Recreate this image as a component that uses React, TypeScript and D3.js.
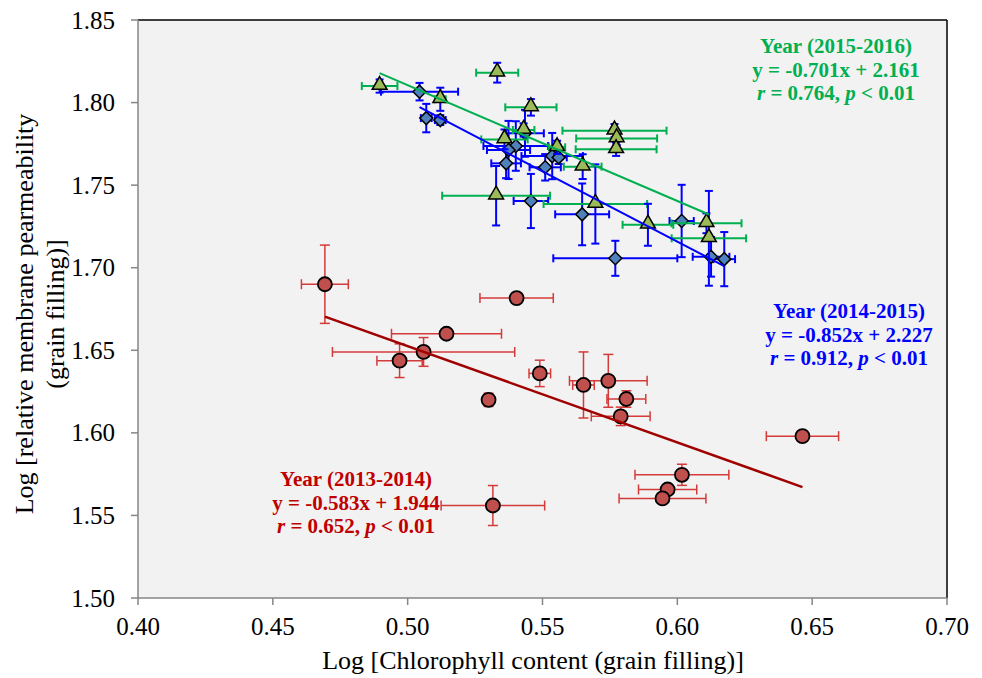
import * as d3 from "d3";

type Pt = { x: number; y: number; ex: number; ey: number };

// Year (2013-2014) – circles
const redX = [0.4693, 0.5404, 0.5144, 0.5059, 0.497, 0.549, 0.53, 0.5652, 0.5744, 0.5811, 0.579, 0.5316, 0.6464, 0.6017, 0.5964, 0.5945];
const redY = [1.69, 1.6816, 1.66, 1.649, 1.6437, 1.636, 1.62, 1.629, 1.6315, 1.6205, 1.61, 1.556, 1.598, 1.5746, 1.5657, 1.5603];
const redEx = [0.0087, 0.0136, 0.0204, 0.0338, 0.0084, 0.004, 0.0015, 0.004, 0.0144, 0.0072, 0.0109, 0.0192, 0.0134, 0.0174, 0.0108, 0.0161];
const redEy = [0.0237, 0.002, 0.002, 0.0087, 0.0102, 0.008, 0.004, 0.02, 0.016, 0.005, 0.0056, 0.0121, 0.002, 0.0064, 0.002, 0.002];

// Year (2014-2015) – diamonds
const blueX = [0.5044, 0.5069, 0.5121, 0.5435, 0.5401, 0.5374, 0.5365, 0.5536, 0.556, 0.551, 0.5457, 0.5647, 0.577, 0.6016, 0.6125, 0.6174];
const blueY = [1.8066, 1.7906, 1.7894, 1.7814, 1.7737, 1.7713, 1.7632, 1.7676, 1.7668, 1.7608, 1.7404, 1.7323, 1.7057, 1.7283, 1.7066, 1.7052];
const blueEx = [0.0143, 0.002, 0.002, 0.007, 0.012, 0.008, 0.0055, 0.0114, 0.003, 0.0058, 0.0064, 0.01, 0.023, 0.0045, 0.0068, 0.004];
const blueEy = [0.0053, 0.0086, 0.003, 0.0142, 0.015, 0.0176, 0.009, 0.014, 0.004, 0.008, 0.0164, 0.0187, 0.0106, 0.0219, 0.012, 0.0164];

// Year (2015-2016) – triangles
const greenX = [0.4896, 0.5332, 0.5121, 0.5457, 0.543, 0.5359, 0.5767, 0.5775, 0.5773, 0.5554, 0.5649, 0.5328, 0.5696, 0.5891, 0.6108, 0.6117];
const greenY = [1.81, 1.8181, 1.802, 1.7971, 1.7834, 1.7777, 1.783, 1.7783, 1.7717, 1.7729, 1.7612, 1.7436, 1.7386, 1.726, 1.7269, 1.7178];
const greenEx = [0.0066, 0.0078, 0.002, 0.0095, 0.004, 0.0086, 0.0193, 0.015, 0.015, 0.003, 0.007, 0.02, 0.0192, 0.0094, 0.013, 0.0138];
const greenEy = [0.004, 0.006, 0.007, 0.005, 0.004, 0.006, 0.004, 0.004, 0.004, 0.004, 0.0075, 0.018, 0.024, 0.0127, 0.006, 0.0287];

const xTicks = [0.4, 0.45, 0.5, 0.55, 0.6, 0.65, 0.7];
const yTicks = [1.5, 1.55, 1.6, 1.65, 1.7, 1.75, 1.8, 1.85];

const fits = [
  { slope: -0.583, icept: 1.944, year: "Year (2013-2014)", r: "0.652" },
  { slope: -0.852, icept: 2.227, year: "Year (2014-2015)", r: "0.912" },
  { slope: -0.701, icept: 2.161, year: "Year (2015-2016)", r: "0.764" },
];

const zip = (xs: number[], ys: number[], exs: number[], eys: number[]): Pt[] =>
  xs.map((x, i) => ({ x, y: ys[i], ex: exs[i], ey: eys[i] }));

const red = zip(redX, redY, redEx, redEy);
const blue = zip(blueX, blueY, blueEx, blueEy);
const green = zip(greenX, greenY, greenEx, greenEy);

const W = 982;
const H = 678;
const left = 138;
const right = 947;
const top = 20;
const bottom = 598;

const x = d3.scaleLinear().domain([0.4, 0.7]).range([left, right]);
const y = d3.scaleLinear().domain([1.5, 1.85]).range([bottom, top]);

const serif = "Liberation Serif, Times New Roman, Times, DejaVu Serif, serif";

function ErrorBars({ data, xColor, yColor, cap, width }: { data: Pt[]; xColor: string; yColor: string; cap: number; width: number }) {
  return (
    <g strokeWidth={width} fill="none">
      {data.map((d, i) => {
        const cx = x(d.x);
        const cy = y(d.y);
        const x0 = x(d.x - d.ex);
        const x1 = x(d.x + d.ex);
        const y0 = y(d.y - d.ey);
        const y1 = y(d.y + d.ey);
        return (
          <g key={i}>
            <g stroke={xColor}>
              <line x1={x0} x2={x1} y1={cy} y2={cy} />
              <line x1={x0} x2={x0} y1={cy - cap} y2={cy + cap} />
              <line x1={x1} x2={x1} y1={cy - cap} y2={cy + cap} />
            </g>
            <g stroke={yColor}>
              <line x1={cx} x2={cx} y1={y0} y2={y1} />
              <line x1={cx - cap} x2={cx + cap} y1={y0} y2={y0} />
              <line x1={cx - cap} x2={cx + cap} y1={y1} y2={y1} />
            </g>
          </g>
        );
      })}
    </g>
  );
}

function fitPath(data: Pt[], slope: number, icept: number) {
  const [lo, hi] = d3.extent(data, (d) => d.x) as [number, number];
  const line = d3
    .line<number>()
    .x((v) => x(v))
    .y((v) => y(slope * v + icept));
  return line([lo, hi]) || "";
}

function Annotation({ cx, y0, color, fit }: { cx: number; y0: number; color: string; fit: (typeof fits)[number] }) {
  const sign = fit.icept >= 0 ? "+" : "-";
  return (
    <g fill={color} fontWeight="bold" fontSize={21} textAnchor="middle">
      <text x={cx} y={y0}>{fit.year}</text>
      <text x={cx} y={y0 + 24}>
        y = {fit.slope.toFixed(3)}x {sign} {Math.abs(fit.icept).toFixed(3)}
      </text>
      <text x={cx} y={y0 + 47}>
        <tspan fontStyle="italic">r</tspan> = {fit.r}, <tspan fontStyle="italic">p</tspan> {"< 0.01"}
      </text>
    </g>
  );
}

export default function App() {
  const tri = d3.symbol(d3.symbolTriangle, 95)() || "";
  const midY = 314;
  return (
    <div style={{ position: "absolute", left: 0, top: 0 }}>
      <svg width={W} height={H} style={{ display: "block", background: "#fff", fontFamily: serif }}>
        <rect x={left} y={top} width={right - left} height={bottom - top} fill="#f2f2f2" />

        {/* frame */}
        <line x1={left} x2={right} y1={top} y2={top} stroke="#000" strokeWidth={1.5} />
        <line x1={right} x2={right} y1={top} y2={bottom} stroke="#000" strokeWidth={1.5} />

        {/* axes */}
        <g stroke="#868686" strokeWidth={1.5}>
          <line x1={left} x2={left} y1={top} y2={bottom} />
          <line x1={left} x2={right} y1={bottom} y2={bottom} />
          {yTicks.map((t) => (
            <line key={t} x1={left - 7} x2={left} y1={y(t)} y2={y(t)} />
          ))}
          {xTicks.map((t) => (
            <line key={t} x1={x(t)} x2={x(t)} y1={bottom} y2={bottom + 7} />
          ))}
        </g>
        <g fontSize={25} fill="#000">
          {yTicks.map((t) => (
            <text key={t} x={left - 23} y={y(t)} dy="0.34em" textAnchor="end">
              {t.toFixed(2)}
            </text>
          ))}
          {xTicks.map((t) => (
            <text key={t} x={x(t)} y={bottom + 37} textAnchor="middle">
              {t.toFixed(2)}
            </text>
          ))}
        </g>

        {/* axis titles */}
        <g fontSize={26} fill="#000" textAnchor="middle">
          <text x={533} y={669}>Log [Chlorophyll content (grain filling)]</text>
          <text transform={`translate(33,${midY}) rotate(-90)`}>Log [relative membrane pearmeability</text>
          <text transform={`translate(64,${midY}) rotate(-90)`}>(grain filling)]</text>
        </g>

        {/* 2013-2014 */}
        <ErrorBars data={red} xColor="#d43a3a" yColor="#d43a3a" cap={5} width={1.5} />
        <g fill="#c0504d" stroke="#000" strokeWidth={1.8}>
          {red.map((d, i) => (
            <circle key={i} cx={x(d.x)} cy={y(d.y)} r={7} />
          ))}
        </g>

        {/* 2014-2015 */}
        <ErrorBars data={blue} xColor="#0000ff" yColor="#0000ff" cap={4} width={2} />
        <g fill="#4f81bd" stroke="#000" strokeWidth={1.5}>
          {blue.map((d, i) => {
            const cx = x(d.x);
            const cy = y(d.y);
            const s = 6.5;
            return (
              <path key={i} d={`M${cx},${cy - s}L${cx + s},${cy}L${cx},${cy + s}L${cx - s},${cy}Z`} />
            );
          })}
        </g>

        {/* 2015-2016 */}
        <ErrorBars data={green} xColor="#00b050" yColor="#0000ff" cap={4} width={2} />
        <g fill="#9bbb59" stroke="#000" strokeWidth={1.5}>
          {green.map((d, i) => (
            <path key={i} d={tri} transform={`translate(${x(d.x)},${y(d.y) - 1})`} />
          ))}
        </g>

        {/* trend lines */}
        <path d={fitPath(red, fits[0].slope, fits[0].icept)} stroke="#a00000" strokeWidth={2.5} fill="none" />
        <path d={fitPath(blue, fits[1].slope, fits[1].icept)} stroke="#0000ff" strokeWidth={2} fill="none" />
        <path d={fitPath(green, fits[2].slope, fits[2].icept)} stroke="#00b050" strokeWidth={2} fill="none" />

        <Annotation cx={356} y0={486} color="#c00000" fit={fits[0]} />
        <Annotation cx={849} y0={318} color="#0000ff" fit={fits[1]} />
        <Annotation cx={836} y0={53} color="#00b050" fit={fits[2]} />
      </svg>
    </div>
  );
}
